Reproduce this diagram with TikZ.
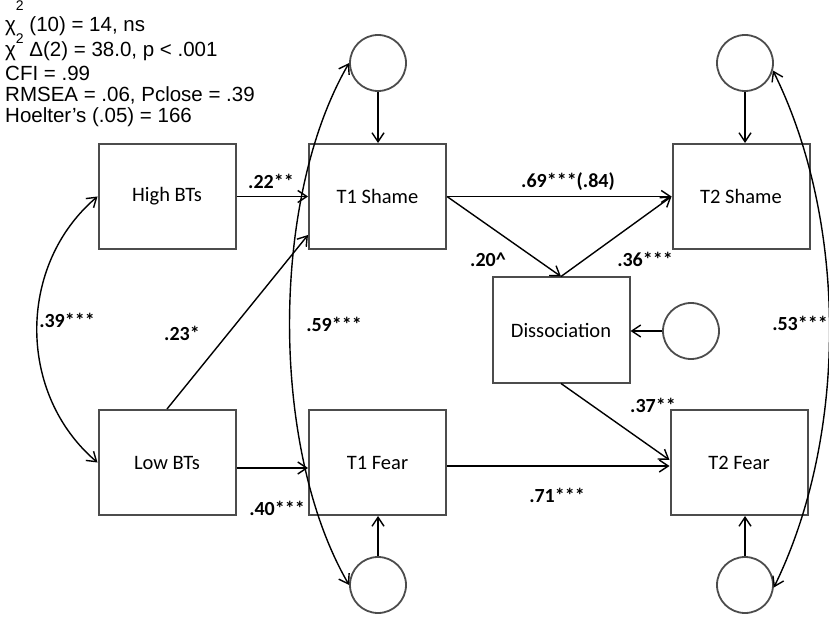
\documentclass[tikz,border=0pt]{standalone}
\usepackage{fontspec}
\setmainfont{Carlito}
\newfontfamily\statfont{Liberation Sans}
\usepackage{tikz}
\usetikzlibrary{arrows.meta}

\begin{document}
\begin{tikzpicture}[x=1pt, y=-1pt,
    >={Straight Barb[length=9pt,width=12pt]},
    varbox/.style={draw=black!70, line width=2pt, fill=white, minimum width=137pt, minimum height=105pt, inner sep=0pt, font=\fontsize{20.5}{24}\selectfont},
    errcirc/.style={circle, draw=black!70, line width=1.8pt, minimum size=56pt, inner sep=0pt},
    pathline/.style={->, line width=1.4pt},
    covline/.style={<->, line width=1.4pt},
    coef/.style={font=\fontsize{20}{24}\selectfont\bfseries, inner sep=0pt},
    fitline/.style={anchor=base west, inner sep=0pt, font=\statfont\fontsize{20.5}{24}\selectfont}]
				\useasboundingbox (0,0) rectangle (829,617);
				
				% Fit statistics
				\node[fitline] (fit1) at (5,32) {χ\raisebox{21pt}{\fontsize{14}{14}\selectfont 2} (10) = 14, ns};
				\node[fitline] (fit2) at (5,57) {χ\raisebox{13pt}{\fontsize{14}{14}\selectfont 2} Δ(2) = 38.0, p < .001};
				\node[fitline] (fit3) at (5,81) {CFI = .99};
				\node[fitline] (fit4) at (5,102) {RMSEA = .06, Pclose = .39};
				\node[fitline] (fit5) at (5,123) {Hoelter’s (.05) = 166};
				
				% Observed variables
				\node[varbox] (hbt) at (167,196.5) {High BTs};
				\node[varbox] (lbt) at (167,462.5) {Low BTs};
				\node[varbox] (sh1) at (377.5,196.5) {T1 Shame};
				\node[varbox] (fe1) at (377.5,462.5) {T1 Fear};
				\node[varbox] (sh2) at (741,196.5) {T2 Shame};
				\node[varbox] (fe2) at (739,462.5) {T2 Fear};
				\node[varbox] (dis) at (561,330) {Dissociation};
				
				% Error terms
				\node[errcirc] (esh1) at (378,63) {};
				\node[errcirc] (esh2) at (745,63) {};
				\node[errcirc] (edis) at (691,331) {};
				\node[errcirc] (efe1) at (378,585) {};
				\node[errcirc] (efe2) at (745,585) {};
				
				% Error arrows
				\draw[pathline] (esh1.south) -- (esh1 |- sh1.north);
				\draw[pathline] (esh2.south) -- (esh2 |- sh2.north);
				\draw[pathline] (efe1.north) -- (efe1 |- fe1.south);
				\draw[pathline] (efe2.north) -- (efe2 |- fe2.south);
				\draw[pathline] (edis.west) -- (edis -| dis.east);
				
				% Paths from BTs to T1
				\draw[pathline] (hbt.east) -- (sh1.west);
				\draw[pathline] ([yshift=-5.5pt]lbt.east) -- ([yshift=-5.5pt]fe1.west);
				\draw[pathline] (lbt.north) -- ([yshift=-38.5pt]sh1.west);
				
				% Paths from T1 to T2 and through dissociation
				\draw[pathline] (sh1.east) -- (sh2.west);
				\draw[pathline] ([yshift=-3.5pt]fe1.east) -- ([yshift=-3.5pt]fe2.west);
				\draw[pathline] (sh1.east) -- (dis.north);
				\draw[pathline] (dis.north) -- (sh2.west);
				\draw[pathline] (dis.south) -- ([yshift=2.5pt]fe2.west);
				
				% Covariances
				\draw[covline] (hbt.west) .. controls (17,265) and (17,394) .. (lbt.west);
				\draw[covline] (esh1.west) .. controls (270,199) and (270,449) .. (efe1.west);
				\draw[covline] (esh2.-15) .. controls (848,222) and (848,436) .. (efe2.-5);
				
				% Coefficients
				\node[coef] (c22) at (271,181) {.22**};
				\node[coef] (c23) at (182,333) {.23*};
				\node[coef] (c40) at (277,508) {.40***};
				\node[coef] (c39) at (67,320) {.39***};
				\node[coef] (c59) at (334,324) {.59***};
				\node[coef] (c69) at (568,182) {.69***(.84)};
				\node[coef] (c20) at (488,260) {.20\^{}};
				\node[coef] (c36) at (645,259) {.36***};
				\node[coef] (c37) at (653,405) {.37**};
				\node[coef] (c71) at (557,495) {.71***};
				\node[coef] (c53) at (800,323) {.53***};
			\end{tikzpicture}
\end{document}
